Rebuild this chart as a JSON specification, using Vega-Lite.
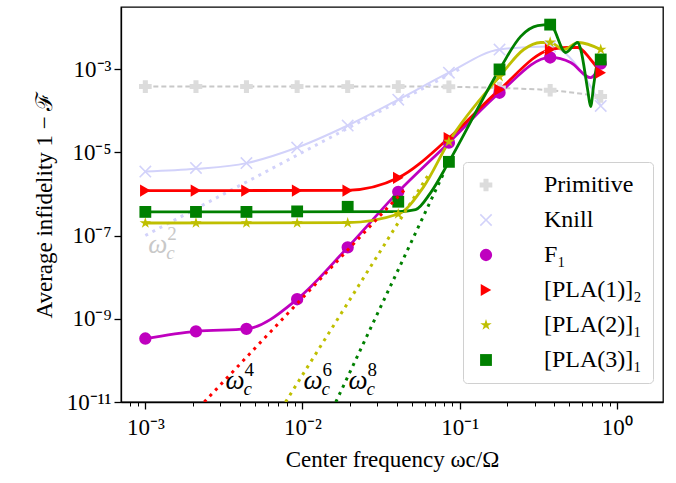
{
  "$schema": "https://vega.github.io/schema/vega-lite/v6.json",
  "width": 542,
  "height": 395,
  "autosize": {"type": "none"},
  "padding": {"left": 121, "top": 7, "right": 13, "bottom": 81},
  "background": "white",
  "config": {
    "view": {"stroke": "black", "strokeWidth": 1.3},
    "axis": {"domainColor": "black", "domainWidth": 1.3, "tickColor": "black", "labelColor": "black", "titleColor": "black", "labelFont": "Liberation Serif", "titleFont": "Liberation Serif", "labelFontSize": 23, "titleFontSize": 23, "titleFontWeight": "normal", "grid": false, "labelOverlap": false, "labelFlush": false},
    "legend": {"labelFont": "Liberation Serif", "labelFontSize": 24, "labelColor": "black"}
  },
  "datasets": {
    "markers": [
      {"series": "Primitive", "x": 0.001, "y": 3.8e-4},
      {"series": "Primitive", "x": 0.0021, "y": 3.8e-4},
      {"series": "Primitive", "x": 0.0044, "y": 3.8e-4},
      {"series": "Primitive", "x": 0.00925, "y": 3.8e-4},
      {"series": "Primitive", "x": 0.0194, "y": 3.8e-4},
      {"series": "Primitive", "x": 0.0407, "y": 3.8e-4},
      {"series": "Primitive", "x": 0.0855, "y": 3.75e-4},
      {"series": "Primitive", "x": 0.1795, "y": 3.5e-4},
      {"series": "Primitive", "x": 0.377, "y": 3.1e-4},
      {"series": "Primitive", "x": 0.791, "y": 2.2e-4},
      {"series": "Knill", "x": 0.001, "y": 3.44e-6},
      {"series": "Knill", "x": 0.0021, "y": 4.2e-6},
      {"series": "Knill", "x": 0.0044, "y": 5.5e-6},
      {"series": "Knill", "x": 0.00925, "y": 1.3e-5},
      {"series": "Knill", "x": 0.0194, "y": 4.4e-5},
      {"series": "Knill", "x": 0.0407, "y": 1.84e-4},
      {"series": "Knill", "x": 0.0855, "y": 8.2e-4},
      {"series": "Knill", "x": 0.1795, "y": 2.95e-3},
      {"series": "Knill", "x": 0.377, "y": 3.5e-3},
      {"series": "Knill", "x": 0.791, "y": 1.3e-4},
      {"series": "F₁", "x": 0.001, "y": 3.35e-10},
      {"series": "F₁", "x": 0.0021, "y": 5.0e-10},
      {"series": "F₁", "x": 0.0044, "y": 5.7e-10},
      {"series": "F₁", "x": 0.00925, "y": 2.95e-9},
      {"series": "F₁", "x": 0.0194, "y": 5.2e-8},
      {"series": "F₁", "x": 0.0407, "y": 1.12e-6},
      {"series": "F₁", "x": 0.0855, "y": 1.7e-5},
      {"series": "F₁", "x": 0.1795, "y": 2.7e-4},
      {"series": "F₁", "x": 0.377, "y": 1.9e-3},
      {"series": "F₁", "x": 0.791, "y": 1.35e-3},
      {"series": "[PLA(1)]₂", "x": 0.001, "y": 1.2e-6},
      {"series": "[PLA(1)]₂", "x": 0.0021, "y": 1.2e-6},
      {"series": "[PLA(1)]₂", "x": 0.0044, "y": 1.2e-6},
      {"series": "[PLA(1)]₂", "x": 0.00925, "y": 1.2e-6},
      {"series": "[PLA(1)]₂", "x": 0.0194, "y": 1.2e-6},
      {"series": "[PLA(1)]₂", "x": 0.0407, "y": 2.43e-6},
      {"series": "[PLA(1)]₂", "x": 0.0855, "y": 2.2e-5},
      {"series": "[PLA(1)]₂", "x": 0.1795, "y": 3.2e-4},
      {"series": "[PLA(1)]₂", "x": 0.377, "y": 2.95e-3},
      {"series": "[PLA(1)]₂", "x": 0.791, "y": 8.2e-4},
      {"series": "[PLA(2)]₁", "x": 0.001, "y": 2.0e-7},
      {"series": "[PLA(2)]₁", "x": 0.0021, "y": 2.0e-7},
      {"series": "[PLA(2)]₁", "x": 0.0044, "y": 2.0e-7},
      {"series": "[PLA(2)]₁", "x": 0.00925, "y": 2.0e-7},
      {"series": "[PLA(2)]₁", "x": 0.0194, "y": 2.0e-7},
      {"series": "[PLA(2)]₁", "x": 0.0407, "y": 3.3e-7},
      {"series": "[PLA(2)]₁", "x": 0.0855, "y": 1.8e-5},
      {"series": "[PLA(2)]₁", "x": 0.1795, "y": 6.6e-4},
      {"series": "[PLA(2)]₁", "x": 0.377, "y": 4.4e-3},
      {"series": "[PLA(2)]₁", "x": 0.791, "y": 2.95e-3},
      {"series": "[PLA(3)]₁", "x": 0.001, "y": 3.7e-7},
      {"series": "[PLA(3)]₁", "x": 0.0021, "y": 3.7e-7},
      {"series": "[PLA(3)]₁", "x": 0.0044, "y": 3.7e-7},
      {"series": "[PLA(3)]₁", "x": 0.00925, "y": 3.8e-7},
      {"series": "[PLA(3)]₁", "x": 0.0194, "y": 4.9e-7},
      {"series": "[PLA(3)]₁", "x": 0.0407, "y": 6.5e-7},
      {"series": "[PLA(3)]₁", "x": 0.0855, "y": 5.9e-6},
      {"series": "[PLA(3)]₁", "x": 0.1795, "y": 9.8e-4},
      {"series": "[PLA(3)]₁", "x": 0.377, "y": 1.17e-2},
      {"series": "[PLA(3)]₁", "x": 0.791, "y": 1.7e-3}
    ],
    "curves": [
      {"series": "Primitive", "x": 0.001, "y": 3.8e-4},
      {"series": "Primitive", "x": 0.0407, "y": 3.8e-4},
      {"series": "Primitive", "x": 0.0855, "y": 3.75e-4},
      {"series": "Primitive", "x": 0.1795, "y": 3.5e-4},
      {"series": "Primitive", "x": 0.377, "y": 3.1e-4},
      {"series": "Primitive", "x": 0.791, "y": 2.2e-4},
      {"series": "Knill", "x": 0.001, "y": 3.44e-6},
      {"series": "Knill", "x": 0.0021, "y": 4.0e-6},
      {"series": "Knill", "x": 0.0044, "y": 5.5e-6},
      {"series": "Knill", "x": 0.00925, "y": 1.3e-5},
      {"series": "Knill", "x": 0.0194, "y": 4.4e-5},
      {"series": "Knill", "x": 0.0407, "y": 1.84e-4},
      {"series": "Knill", "x": 0.0855, "y": 8.2e-4},
      {"series": "Knill", "x": 0.1795, "y": 2.95e-3},
      {"series": "Knill", "x": 0.377, "y": 3.5e-3},
      {"series": "Knill", "x": 0.682, "y": 3.8e-4},
      {"series": "Knill", "x": 0.791, "y": 1.3e-4},
      {"series": "F₁", "x": 0.001, "y": 3.35e-10},
      {"series": "F₁", "x": 0.0021, "y": 5.0e-10},
      {"series": "F₁", "x": 0.0044, "y": 5.7e-10},
      {"series": "F₁", "x": 0.00925, "y": 2.95e-9},
      {"series": "F₁", "x": 0.0194, "y": 5.2e-8},
      {"series": "F₁", "x": 0.0407, "y": 1.12e-6},
      {"series": "F₁", "x": 0.0855, "y": 1.7e-5},
      {"series": "F₁", "x": 0.1795, "y": 2.7e-4},
      {"series": "F₁", "x": 0.377, "y": 1.9e-3},
      {"series": "F₁", "x": 0.509, "y": 1.44e-3},
      {"series": "F₁", "x": 0.682, "y": 6.2e-4},
      {"series": "F₁", "x": 0.791, "y": 1.35e-3},
      {"series": "[PLA(1)]₂", "x": 0.001, "y": 1.2e-6},
      {"series": "[PLA(1)]₂", "x": 0.0194, "y": 1.22e-6},
      {"series": "[PLA(1)]₂", "x": 0.0407, "y": 2.43e-6},
      {"series": "[PLA(1)]₂", "x": 0.0855, "y": 2.2e-5},
      {"series": "[PLA(1)]₂", "x": 0.1795, "y": 3.2e-4},
      {"series": "[PLA(1)]₂", "x": 0.377, "y": 2.95e-3},
      {"series": "[PLA(1)]₂", "x": 0.488, "y": 3.3e-3},
      {"series": "[PLA(1)]₂", "x": 0.565, "y": 3.3e-3},
      {"series": "[PLA(1)]₂", "x": 0.682, "y": 1.7e-3},
      {"series": "[PLA(1)]₂", "x": 0.791, "y": 8.2e-4},
      {"series": "[PLA(2)]₁", "x": 0.001, "y": 2.0e-7},
      {"series": "[PLA(2)]₁", "x": 0.0194, "y": 2.05e-7},
      {"series": "[PLA(2)]₁", "x": 0.0407, "y": 3.3e-7},
      {"series": "[PLA(2)]₁", "x": 0.059, "y": 1.48e-6},
      {"series": "[PLA(2)]₁", "x": 0.0855, "y": 1.8e-5},
      {"series": "[PLA(2)]₁", "x": 0.1795, "y": 6.6e-4},
      {"series": "[PLA(2)]₁", "x": 0.256, "y": 2.95e-3},
      {"series": "[PLA(2)]₁", "x": 0.328, "y": 4.35e-3},
      {"series": "[PLA(2)]₁", "x": 0.377, "y": 4.4e-3},
      {"series": "[PLA(2)]₁", "x": 0.459, "y": 2.95e-3},
      {"series": "[PLA(2)]₁", "x": 0.573, "y": 4.35e-3},
      {"series": "[PLA(2)]₁", "x": 0.791, "y": 2.95e-3},
      {"series": "[PLA(3)]₁", "x": 0.001, "y": 3.7e-7},
      {"series": "[PLA(3)]₁", "x": 0.0407, "y": 3.75e-7},
      {"series": "[PLA(3)]₁", "x": 0.0525, "y": 4.2e-7},
      {"series": "[PLA(3)]₁", "x": 0.0653, "y": 1.06e-6},
      {"series": "[PLA(3)]₁", "x": 0.0855, "y": 5.9e-6},
      {"series": "[PLA(3)]₁", "x": 0.1795, "y": 9.8e-4},
      {"series": "[PLA(3)]₁", "x": 0.245, "y": 6.1e-3},
      {"series": "[PLA(3)]₁", "x": 0.314, "y": 1.1e-2},
      {"series": "[PLA(3)]₁", "x": 0.377, "y": 1.17e-2},
      {"series": "[PLA(3)]₁", "x": 0.473, "y": 2.5e-3},
      {"series": "[PLA(3)]₁", "x": 0.565, "y": 4.4e-3},
      {"series": "[PLA(3)]₁", "x": 0.59, "y": 2.95e-3},
      {"series": "[PLA(3)]₁", "x": 0.653, "y": 3.2e-4},
      {"series": "[PLA(3)]₁", "x": 0.682, "y": 1.25e-4},
      {"series": "[PLA(3)]₁", "x": 0.714, "y": 4.2e-4},
      {"series": "[PLA(3)]₁", "x": 0.757, "y": 1.5e-3},
      {"series": "[PLA(3)]₁", "x": 0.791, "y": 1.7e-3}
    ],
    "guides": [
      {"series": "Knill", "x": 0.001, "y": 1e-7},
      {"series": "Knill", "x": 0.1, "y": 1e-3},
      {"series": "[PLA(1)]₂", "x": 0.00237, "y": 1e-11},
      {"series": "[PLA(1)]₂", "x": 0.045, "y": 1.3e-6},
      {"series": "[PLA(2)]₁", "x": 0.0078, "y": 1e-11},
      {"series": "[PLA(2)]₁", "x": 0.065, "y": 3.4e-6},
      {"series": "[PLA(3)]₁", "x": 0.0163, "y": 1e-11},
      {"series": "[PLA(3)]₁", "x": 0.08, "y": 3.4e-6}
    ],
    "ann": [
      {"x": 0.001045, "y": 3.79e-8, "p": "2"},
      {"x": 0.00324, "y": 2.11e-11, "p": "4"},
      {"x": 0.01015, "y": 2.11e-11, "p": "6"},
      {"x": 0.0196, "y": 2.11e-11, "p": "8"}
    ]
  },
  "encoding": {
    "x": {
      "field": "x", "type": "quantitative",
      "scale": {"type": "log", "domain": [0.0007, 1.97], "nice": false},
      "axis": {
        "title": "Center frequency ωc/Ω",
        "titlePadding": 9,
        "values": [0.0008, 0.0009, 0.001, 0.002, 0.003, 0.004, 0.005, 0.006, 0.007, 0.008, 0.009, 0.01, 0.02, 0.03, 0.04, 0.05, 0.06, 0.07, 0.08, 0.09, 0.1, 0.2, 0.3, 0.4, 0.5, 0.6, 0.7, 0.8, 0.9, 1],
        "labelExpr": "abs(datum.value-0.001)<1e-9 ? '10⁻³' : abs(datum.value-0.01)<1e-8 ? '10⁻²' : abs(datum.value-0.1)<1e-7 ? '10⁻¹' : abs(datum.value-1)<1e-6 ? '10⁰' : ''",
        "tickSize": {"condition": {"test": "abs(datum.value-0.001)<1e-9 || abs(datum.value-0.01)<1e-8 || abs(datum.value-0.1)<1e-7 || abs(datum.value-1)<1e-6", "value": 7}, "value": 4},
        "tickWidth": {"condition": {"test": "abs(datum.value-0.001)<1e-9 || abs(datum.value-0.01)<1e-8 || abs(datum.value-0.1)<1e-7 || abs(datum.value-1)<1e-6", "value": 1.3}, "value": 1},
        "labelPadding": 7
      }
    },
    "y": {
      "field": "y", "type": "quantitative",
      "scale": {"type": "log", "domain": [1e-11, 0.031], "nice": false},
      "axis": {
        "title": "Average infidelity 1 − ℱ",
        "titlePadding": 10,
        "values": [1e-11, 1e-9, 1e-7, 1e-5, 1e-3],
        "labelExpr": "datum.value < 3e-11 ? '10⁻¹¹' : datum.value < 3e-9 ? '10⁻⁹' : datum.value < 3e-7 ? '10⁻⁷' : datum.value < 3e-5 ? '10⁻⁵' : '10⁻³'",
        "tickSize": 7,
        "tickWidth": 1.3,
        "labelPadding": 3
      }
    }
  },
  "layer": [
    {
      "data": {"name": "curves"},
      "transform": [{"filter": "datum.series == 'Primitive'"}],
      "mark": {"type": "line", "strokeWidth": 2, "strokeDash": [5, 3], "interpolate": "monotone", "clip": true},
      "encoding": {"stroke": {"field": "series", "type": "nominal", "legend": null, "scale": {"domain": ["[PLA(3)]₁", "[PLA(2)]₁", "[PLA(1)]₂", "F₁", "Knill", "Primitive"], "range": ["#008000", "#bfbf00", "#ff0000", "#bf00bf", "#d2d2fa", "#c8c8c8"]}}}
    },
    {
      "data": {"name": "curves"},
      "transform": [{"filter": "datum.series == 'Knill'"}],
      "mark": {"type": "line", "strokeWidth": 2, "interpolate": "monotone", "clip": true},
      "encoding": {"stroke": {"field": "series", "type": "nominal", "legend": null, "scale": {"domain": ["[PLA(3)]₁", "[PLA(2)]₁", "[PLA(1)]₂", "F₁", "Knill", "Primitive"], "range": ["#008000", "#bfbf00", "#ff0000", "#bf00bf", "#d2d2fa", "#c8c8c8"]}}}
    },
    {
      "data": {"name": "guides"},
      "transform": [{"filter": "datum.series == 'Knill'"}],
      "mark": {"type": "line", "strokeWidth": 3, "strokeDash": [3, 5], "clip": true},
      "encoding": {"stroke": {"field": "series", "type": "nominal", "legend": null, "scale": {"domain": ["[PLA(3)]₁", "[PLA(2)]₁", "[PLA(1)]₂", "F₁", "Knill", "Primitive"], "range": ["#008000", "#bfbf00", "#ff0000", "#bf00bf", "#d2d2fa", "#c8c8c8"]}}}
    },
    {
      "data": {"name": "curves"},
      "transform": [{"filter": "datum.series != 'Knill' && datum.series != 'Primitive'"}],
      "mark": {"type": "line", "strokeWidth": 2.8, "interpolate": "monotone", "clip": true},
      "encoding": {"stroke": {"field": "series", "type": "nominal", "legend": null, "scale": {"domain": ["[PLA(3)]₁", "[PLA(2)]₁", "[PLA(1)]₂", "F₁", "Knill", "Primitive"], "range": ["#008000", "#bfbf00", "#ff0000", "#bf00bf", "#d2d2fa", "#c8c8c8"]}}}
    },
    {
      "data": {"name": "markers"},
      "mark": {"type": "point", "filled": true, "opacity": 1, "clip": true},
      "encoding": {
        "color": {"field": "series", "type": "nominal", "title": null,
          "scale": {"domain": ["Primitive", "Knill", "F₁", "[PLA(1)]₂", "[PLA(2)]₁", "[PLA(3)]₁"], "range": ["#dcdcdc", "#d2d2fa", "#bf00bf", "#ff0000", "#bfbf00", "#008000"]},
          "legend": {"orient": "none", "legendX": 342, "legendY": 155, "padding": 11, "strokeColor": "#d0d0d0", "fillColor": "white", "cornerRadius": 4, "labelOffset": 46, "rowPadding": 11}},
        "shape": {"field": "series", "type": "nominal", "title": null,
          "scale": {"domain": ["Primitive", "Knill", "F₁", "[PLA(1)]₂", "[PLA(2)]₁", "[PLA(3)]₁"], "range": ["cross", "M-1,-0.82L-0.82,-1L0,-0.18L0.82,-1L1,-0.82L0.18,0L1,0.82L0.82,1L0,0.18L-0.82,1L-1,0.82L-0.18,0Z", "circle", "triangle-right", "M0,-1L0.2245,-0.309L0.951,-0.309L0.363,0.118L0.588,0.809L0,0.382L-0.588,0.809L-0.363,0.118L-0.951,-0.309L-0.2245,-0.309Z", "square"]},
          "legend": {"orient": "none", "legendX": 342, "legendY": 155, "padding": 11, "strokeColor": "#d0d0d0", "fillColor": "white", "cornerRadius": 4, "labelOffset": 46, "rowPadding": 11}},
        "size": {"field": "series", "type": "nominal", "title": null,
          "scale": {"domain": ["Primitive", "Knill", "F₁", "[PLA(1)]₂", "[PLA(2)]₁", "[PLA(3)]₁"], "range": [160, 140, 170, 210, 230, 180]},
          "legend": {"orient": "none", "legendX": 342, "legendY": 155, "padding": 11, "strokeColor": "#d0d0d0", "fillColor": "white", "cornerRadius": 4, "labelOffset": 46, "rowPadding": 11}}
      }
    },
    {
      "data": {"name": "guides"},
      "transform": [{"filter": "datum.series != 'Knill'"}],
      "mark": {"type": "line", "strokeWidth": 3, "strokeDash": [3, 5], "clip": true},
      "encoding": {"stroke": {"field": "series", "type": "nominal", "legend": null, "scale": {"domain": ["[PLA(3)]₁", "[PLA(2)]₁", "[PLA(1)]₂", "F₁", "Knill", "Primitive"], "range": ["#008000", "#bfbf00", "#ff0000", "#bf00bf", "#d2d2fa", "#c8c8c8"]}}}
    },
    {
      "data": {"name": "ann"},
      "mark": {"type": "text", "align": "left", "baseline": "alphabetic", "font": "Liberation Serif", "fontStyle": "italic", "fontSize": 27},
      "encoding": {"text": {"value": "ω"}, "color": {"condition": {"test": "datum.p == '2'", "value": "#c8c8c8"}, "value": "black"}}
    },
    {
      "data": {"name": "ann"},
      "mark": {"type": "text", "align": "left", "baseline": "alphabetic", "font": "Liberation Serif", "fontStyle": "italic", "fontSize": 19, "dx": 18, "dy": 6},
      "encoding": {"text": {"value": "c"}, "color": {"condition": {"test": "datum.p == '2'", "value": "#c8c8c8"}, "value": "black"}}
    },
    {
      "data": {"name": "ann"},
      "mark": {"type": "text", "align": "left", "baseline": "alphabetic", "font": "Liberation Serif", "fontSize": 19, "dx": 19, "dy": -13},
      "encoding": {"text": {"field": "p"}, "color": {"condition": {"test": "datum.p == '2'", "value": "#c8c8c8"}, "value": "black"}}
    }
  ]
}
